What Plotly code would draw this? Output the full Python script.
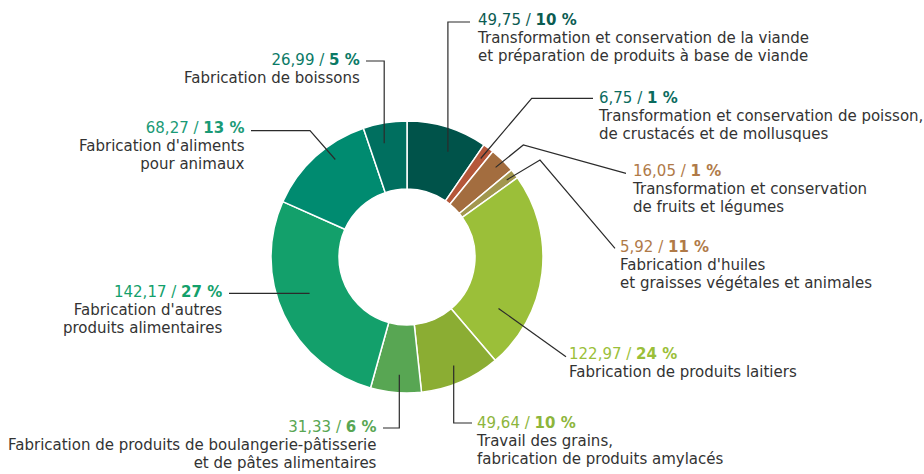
import math
import plotly.graph_objects as go

# Valeurs (en milliers) par secteur, dans l'ordre horaire à partir de midi
secteurs = [
    "Transformation et conservation de la viande<br>et préparation de produits à base de viande",
    "Transformation et conservation de poisson,<br>de crustacés et de mollusques",
    "Transformation et conservation<br>de fruits et légumes",
    "Fabrication d'huiles<br>et graisses végétales et animales",
    "Fabrication de produits laitiers",
    "Travail des grains,<br>fabrication de produits amylacés",
    "Fabrication de produits de boulangerie-pâtisserie<br>et de pâtes alimentaires",
    "Fabrication d'autres<br>produits alimentaires",
    "Fabrication d'aliments<br>pour animaux",
    "Fabrication de boissons",
]
valeurs = [49.75, 6.75, 16.05, 5.92, 122.97, 49.64, 31.33, 142.17, 68.27, 26.99]
valeurs_txt = ["49,75", "6,75", "16,05", "5,92", "122,97", "49,64", "31,33", "142,17", "68,27", "26,99"]
parts_txt = ["10 %", "1 %", "1 %", "11 %", "24 %", "10 %", "6 %", "27 %", "13 %", "5 %"]

couleurs = ["#00534a", "#b5573a", "#a36d3f", "#a2974e", "#9bbf39",
            "#8bad33", "#58a653", "#13a06b", "#008b70", "#006f5f"]
couleurs_txt = ["#0b5c52", "#0b6b5e", "#b07a48", "#b07a48", "#9bbf39",
                "#8db53b", "#58a653", "#13a06b", "#1a9a76", "#0b7a66"]

W, H = 924, 474
CX, CY, R = 407, 257, 136

# Placement des étiquettes : (x, y du centre de la 1re ligne, côté)
etiquettes = [
    (476, 19, "left"),
    (597, 97, "left"),
    (631, 170, "left"),
    (619, 246, "left"),
    (568, 353, "left"),
    (475, 422, "left"),
    (378, 426, "right"),
    (223, 291, "right"),
    (246, 127, "right"),
    (361, 59, "right"),
]

# Point d'accroche dans l'anneau : (rayon, décalage angulaire en degrés)
accroches = [(113, 4), (123, 0), (126, 0), (126, 0), (105, 22.4),
             (118, 0), (118, -1), (104, 4.7), (121, 6), (116, -2)]

# Tracé des filets : type et points de passage
routes = [
    ("v", [(470, 22)]),
    ("p", [(531.7, 98.3), (593, 98.3)]),
    ("p", [(523.3, 145), (626, 173.3)]),
    ("p", [(540, 160), (615, 248.3)]),
    ("p", [(566, 356.7)]),
    ("v", [(472, 423)]),
    ("v", [(383, 428)]),
    ("h", [(229, None)]),
    ("p", [(310, 130.7), (251, 130.7)]),
    ("v", [(366, 61)]),
]

total = sum(valeurs)

fig = go.Figure()
fig.add_trace(go.Pie(
    values=valeurs,
    labels=[s.replace("<br>", " ") for s in secteurs],
    marker=dict(colors=couleurs, line=dict(color="white", width=1.5)),
    hole=0.5,
    sort=False,
    direction="clockwise",
    rotation=0,
    textinfo="none",
    hoverinfo="label+value",
    showlegend=False,
    domain=dict(x=[(CX - R) / W, (CX + R) / W], y=[1 - (CY + R) / H, 1 - (CY - R) / H]),
))

shapes = []
annotations = []
cumul = 0.0
for i, v in enumerate(valeurs):
    milieu = (cumul + v / 2) / total * 360
    cumul += v
    r, dec = accroches[i]
    a = math.radians(milieu + dec)
    ax = CX + r * math.sin(a)
    ay = CY - r * math.cos(a)
    kind, pts = routes[i]
    if kind == "v":
        ex, ey = pts[0]
        chemin = [(ax, ay), (ax, ey), (ex, ey)]
    elif kind == "h":
        chemin = [(ax, ay), (pts[0][0], ay)]
    else:
        chemin = [(ax, ay)] + pts
    path = "M " + " L ".join(f"{x:.1f} {y:.1f}" for x, y in chemin)
    shapes.append(dict(type="path", path=path, xref="x", yref="y",
                       line=dict(color="#2b2b2b", width=1.2), layer="above"))

    lx, ly, side = etiquettes[i]
    lignes = "<br>".join(f"<span style='font-size:15px'>{l}</span>"
                         for l in secteurs[i].split("<br>"))
    texte = (f"<span style='font-size:15px;color:{couleurs_txt[i]}'>{valeurs_txt[i]} / "
             f"<b>{parts_txt[i]}</b></span><br>{lignes}")
    annotations.append(dict(
        x=lx, y=ly - 9, xref="x", yref="y",
        text=texte, showarrow=False,
        xanchor=side, yanchor="top", align=side,
        font=dict(family="DejaVu Sans, sans-serif", size=14, color="#333333"),
        borderpad=0,
    ))

fig.update_layout(
    width=W, height=H,
    margin=dict(l=0, r=0, t=0, b=0),
    paper_bgcolor="white", plot_bgcolor="rgba(0,0,0,0)",
    xaxis=dict(range=[0, W], visible=False, fixedrange=True),
    yaxis=dict(range=[H, 0], visible=False, fixedrange=True),
    shapes=shapes,
    annotations=annotations,
)

fig.write_html("out.html")
